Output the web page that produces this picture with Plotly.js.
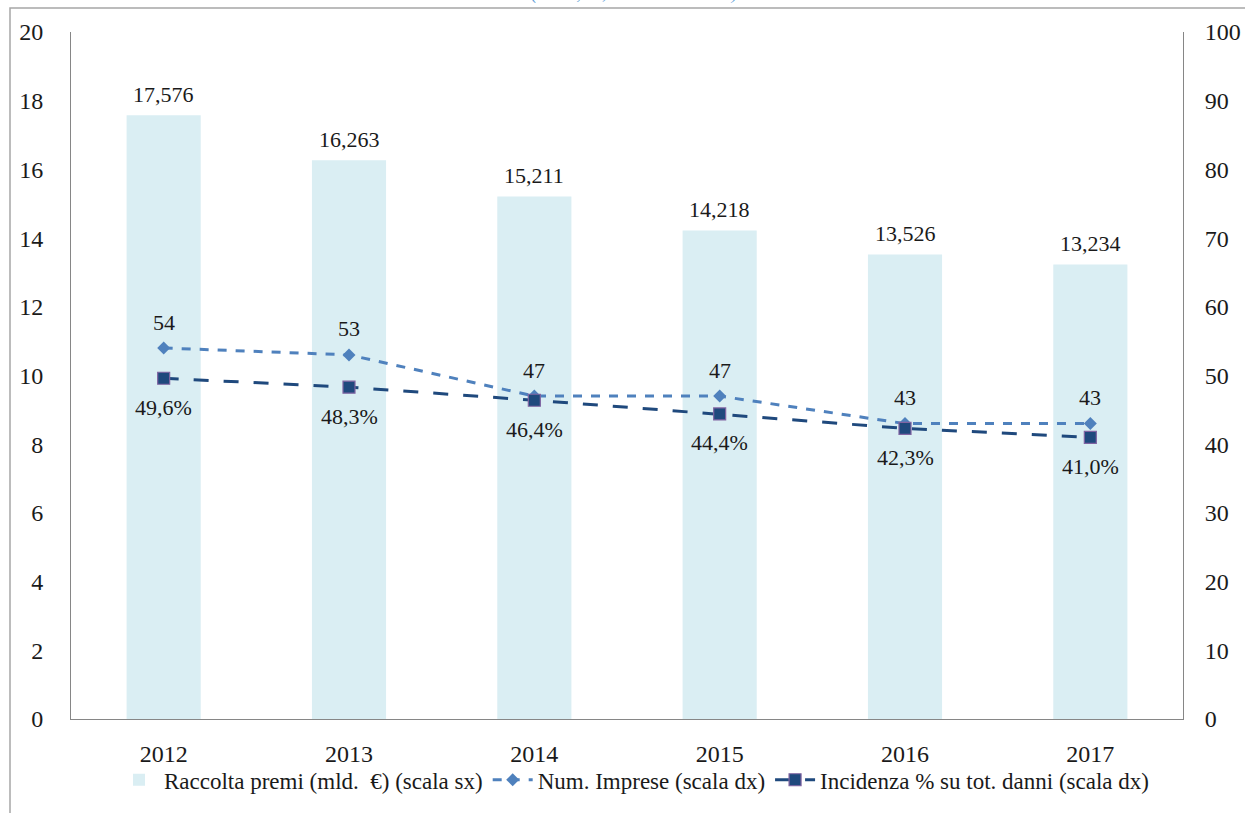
<!DOCTYPE html>
<html><head><meta charset="utf-8">
<script src="https://cdn.plot.ly/plotly-3.0.1.min.js"></script>
<style>html,body{margin:0;padding:0;background:#fff;}#chart{width:1245px;height:813px;}</style>
</head><body><div id="chart"></div>
<script>
const years = ['2012','2013','2014','2015','2016','2017'];
const premi = [17.576, 16.263, 15.211, 14.218, 13.526, 13.234];
const premiLabels = ['17,576','16,263','15,211','14,218','13,526','13,234'];
const imprese = [54, 53, 47, 47, 43, 43];
const impreseLabels = ['54','53','47','47','43','43'];
const incidenza = [49.6, 48.3, 46.4, 44.4, 42.3, 41.0];
const incidenzaLabels = ['49,6%','48,3%','46,4%','44,4%','42,3%','41,0%'];
const leftTicks = [0,2,4,6,8,10,12,14,16,18,20];
const rightTicks = [0,10,20,30,40,50,60,70,80,90,100];

const FONT = '"Liberation Serif", "DejaVu Serif", serif';
const txtColor = '#1a1a1a';

const traces = [
  {type:'bar', x:years, y:premi, name:'Raccolta premi (mld.  €) (scala sx)',
   marker:{color:'#daeef3'}, width:0.4, hoverinfo:'x+y'},
  {type:'scatter', mode:'lines+markers', x:years, y:imprese, yaxis:'y2',
   name:'Num. Imprese (scala dx)',
   line:{color:'#4f81bd', width:3, dash:'dash'},
   marker:{symbol:'diamond', size:10, color:'#4f81bd'}},
  {type:'scatter', mode:'lines+markers', x:years, y:incidenza, yaxis:'y2',
   name:'Incidenza % su tot. danni (scala dx)',
   line:{color:'#1f497d', width:3, dash:'longdash'},
   marker:{symbol:'square', size:12, color:'#1f497d', line:{color:'#8064a2', width:1.2}}}
];

const labelFont = {family:FONT, size:22, color:txtColor};
const annotations = [];
years.forEach((yr, i) => {
  annotations.push({x:i, y:premi[i], xref:'x', yref:'y', text:premiLabels[i], showarrow:false,
    yanchor:'middle', yshift:21, font:labelFont});
  annotations.push({x:i, y:imprese[i], xref:'x', yref:'y2', text:impreseLabels[i], showarrow:false,
    yanchor:'middle', yshift:26, font:labelFont});
  annotations.push({x:i, y:incidenza[i], xref:'x', yref:'y2', text:incidenzaLabels[i], showarrow:false,
    yanchor:'middle', yshift:-29, font:labelFont});
});
annotations.push({xref:'paper', yref:'paper', x:(634-71)/1112, y:1+(32-6)/689,
  xanchor:'center', yanchor:'bottom', showarrow:false,
  text:'<i>(unità, %; miliardi di euro)</i>',
  font:{family:FONT, size:19, color:'#5b9bd5'}});

const tickFont = {family:FONT, size:24, color:txtColor};
const layout = {
  width:1245, height:813,
  margin:{l:71, r:62, t:32, b:92},
  paper_bgcolor:'#fff', plot_bgcolor:'#fff',
  font:{family:FONT, size:22, color:txtColor},
  showlegend:true,
  legend:{orientation:'h', x:(634-71)/1112, xanchor:'center', y:(721-782)/689, yanchor:'middle',
          bgcolor:'rgba(0,0,0,0)',
          font:{family:FONT, size:23, color:txtColor}, traceorder:'normal',
          itemwidth:40, tracegroupgap:0},
  xaxis:{type:'category', range:[-0.5, 5.5], autorange:false, automargin:false,
         showline:true, linecolor:'#868686', linewidth:1,
         ticks:'', showgrid:false, zeroline:false, ticklabelstandoff:13, tickfont:tickFont},
  yaxis:{range:[0,20], autorange:false, automargin:false, tickvals:leftTicks,
         showline:true, linecolor:'#868686', linewidth:1,
         ticks:'', showgrid:false, zeroline:false, ticklabelstandoff:22, tickfont:tickFont},
  yaxis2:{range:[0,100], autorange:false, automargin:false, tickvals:rightTicks, overlaying:'y', side:'right',
          showline:true, linecolor:'#868686', linewidth:1,
          ticks:'', showgrid:false, zeroline:false, ticklabelstandoff:16, tickfont:tickFont},
  shapes:[{type:'rect', xref:'paper', yref:'paper',
           x0:(10-71)/1112, x1:1.3, y0:-0.3, y1:1+(32-8)/689,
           line:{color:'#a6a6a6', width:1.5}, fillcolor:'rgba(0,0,0,0)', layer:'below'}],
  annotations:annotations
};

Plotly.newPlot('chart', traces, layout, {displayModeBar:false, staticPlot:true});
</script></body></html>
